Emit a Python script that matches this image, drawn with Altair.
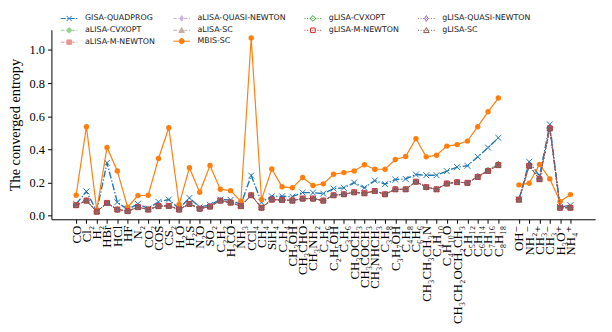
import json
import altair as alt
import pandas as pd

# ---------------- data ----------------
molecules = ["CO", "Cl₂", "H₂", "HBr", "HCl", "HF", "N₂", "CO₂", "COS", "CS₂",
             "H₂O", "H₂S", "N₂O", "SO₂", "C₂H₂", "H₂CO", "NH₃", "CCl₄", "CH₄", "SiH₄",
             "C₂H₄", "CH₃OH", "CH₃CHO", "CH₃NH₂", "C₂H₆", "C₂H₅OH", "C₃H₆", "CH₃OCH₃",
             "CH₃COCH₃", "CH₃NHCH₃", "C₃H₈", "C₃H₇OH", "C₄H₈", "C₆H₆", "CH₃CH₃CH₃N",
             "C₄H₁₀", "C₄H₁₀O", "CH₃CH₂OCH₂CH₃", "C₅H₁₂", "C₆H₁₄", "C₇H₁₆", "C₈H₁₈"]
ions = ["OH⁻", "NH₂⁻", "CH₃⁺", "CH₃⁻", "H₃O⁺", "NH₄⁺"]

gisa_neutral = [0.071, 0.146, 0.027, 0.319, 0.081, 0.037, 0.071, 0.043, 0.083, 0.097,
                0.043, 0.107, 0.051, 0.065, 0.097, 0.095, 0.067, 0.242, 0.081, 0.117,
                0.117, 0.115, 0.139, 0.139, 0.133, 0.163, 0.168, 0.200, 0.168, 0.212,
                0.190, 0.218, 0.222, 0.248, 0.244, 0.244, 0.269, 0.293, 0.301, 0.355,
                0.411, 0.470]
gisa_ions = [0.097, 0.325, 0.240, 0.551, 0.051, 0.063]

mbis_neutral = [0.123, 0.537, 0.035, 0.412, 0.270, 0.051, 0.121, 0.123, 0.345, 0.531,
                0.067, 0.289, 0.141, 0.303, 0.159, 0.151, 0.087, 1.073, 0.097, 0.282,
                0.174, 0.168, 0.230, 0.182, 0.192, 0.250, 0.260, 0.270, 0.307, 0.280,
                0.280, 0.339, 0.357, 0.465, 0.355, 0.365, 0.420, 0.429, 0.450, 0.537,
                0.627, 0.710]
mbis_ions = [0.186, 0.196, 0.309, 0.222, 0.085, 0.127]

lisa_neutral = [0.063, 0.091, 0.024, 0.077, 0.037, 0.027, 0.051, 0.037, 0.057, 0.059,
                0.037, 0.071, 0.042, 0.055, 0.091, 0.079, 0.057, 0.123, 0.048, 0.097,
                0.095, 0.091, 0.103, 0.103, 0.091, 0.123, 0.129, 0.141, 0.135, 0.149,
                0.129, 0.159, 0.159, 0.205, 0.172, 0.159, 0.194, 0.202, 0.198, 0.234,
                0.270, 0.305]
lisa_ions = [0.097, 0.301, 0.220, 0.527, 0.048, 0.048]

cvxopt_neutral = lisa_neutral[:39] + [0.238, 0.275, 0.312]
cvxopt_ions = lisa_ions

series_values = {
    "GISA-QUADPROG": (gisa_neutral, gisa_ions),
    "aLISA-CVXOPT": (cvxopt_neutral, cvxopt_ions),
    "aLISA-M-NEWTON": (lisa_neutral, lisa_ions),
    "aLISA-QUASI-NEWTON": (lisa_neutral, lisa_ions),
    "aLISA-SC": (lisa_neutral, lisa_ions),
    "MBIS-SC": (mbis_neutral, mbis_ions),
    "gLISA-CVXOPT": (cvxopt_neutral, cvxopt_ions),
    "gLISA-M-NEWTON": (lisa_neutral, lisa_ions),
    "gLISA-QUASI-NEWTON": (lisa_neutral, lisa_ions),
    "gLISA-SC": (lisa_neutral, lisa_ions),
}
series_order = list(series_values.keys())

# legend columns as in the reference (filled column by column)
legend_columns = [["GISA-QUADPROG", "aLISA-CVXOPT", "aLISA-M-NEWTON"],
                  ["aLISA-QUASI-NEWTON", "aLISA-SC", "MBIS-SC"],
                  ["gLISA-CVXOPT", "gLISA-M-NEWTON"],
                  ["gLISA-QUASI-NEWTON", "gLISA-SC"]]
legend_column_x = [11.5, 125.5, 258.5, 373.5]

# ---------------- styles ----------------
C = {"blue": "#1f77b4", "orange": "#ff7f0e", "green": "#2ca02c", "red": "#d62728",
     "purple": "#9467bd", "brown": "#8c564b"}
X_PATH = "M-1,-1L1,1M-1,1L1,-1"
THIN_D = "M0,-1L0.6,0L0,1L-0.6,0Z"
styles = {
    "GISA-QUADPROG": dict(color=C["blue"], dash=[7, 2, 1.3, 2], sw=1.4, op=1.0, shape=X_PATH, size=36, filled=False),
    "aLISA-CVXOPT": dict(color=C["green"], dash=[4, 2], sw=1.0, op=0.5, shape="diamond", size=30, filled=True),
    "aLISA-M-NEWTON": dict(color=C["red"], dash=[4, 2], sw=1.0, op=0.5, shape="square", size=25, filled=True),
    "aLISA-QUASI-NEWTON": dict(color=C["purple"], dash=[4, 2], sw=1.0, op=0.5, shape=THIN_D, size=30, filled=True),
    "aLISA-SC": dict(color=C["brown"], dash=[4, 2], sw=1.0, op=0.5, shape="triangle-up", size=28, filled=True),
    "MBIS-SC": dict(color=C["orange"], dash=None, sw=1.2, op=1.0, shape="circle", size=30, filled=True),
    "gLISA-CVXOPT": dict(color=C["green"], dash=[1.2, 2], sw=1.0, op=1.0, shape="diamond", size=30, filled=False),
    "gLISA-M-NEWTON": dict(color=C["red"], dash=[1.2, 2], sw=1.0, op=1.0, shape="square", size=25, filled=False),
    "gLISA-QUASI-NEWTON": dict(color=C["purple"], dash=[1.2, 2], sw=1.0, op=1.0, shape=THIN_D, size=30, filled=False),
    "gLISA-SC": dict(color=C["brown"], dash=[1.2, 2], sw=1.0, op=1.0, shape="triangle-up", size=28, filled=False),
}

# positions: neutral molecules, one empty slot, then ions
pos_neutral = list(range(len(molecules)))
pos_ions = [len(molecules) + 1 + i for i in range(len(ions))]
positions = pos_neutral + pos_ions
label_lookup = [""] * (max(positions) + 1)
for p, name in zip(positions, molecules + ions):
    label_lookup[p] = name

rows = []
for s in series_order:
    neu, ion = series_values[s]
    for p, v in zip(pos_neutral, neu):
        rows.append({"series": s, "pos": p, "value": v, "block": "neutral"})
    for p, v in zip(pos_ions, ion):
        rows.append({"series": s, "pos": p, "value": v, "block": "ion"})
df = pd.DataFrame(rows)

color_scale = alt.Scale(domain=series_order, range=[styles[s]["color"] for s in series_order])

SERIF = "Liberation Serif, DejaVu Serif, serif"

x_enc = alt.X("pos:Q",
              scale=alt.Scale(domain=[-2.4, 50.4], nice=False, zero=False),
              axis=alt.Axis(values=positions,
                            labelExpr=json.dumps(label_lookup, ensure_ascii=False) + "[datum.value]",
                            labelAngle=270, labelFont=SERIF, labelFontSize=13,
                            labelPadding=2, tickSize=4, title=None, labelOverlap=False,
                            labelBound=False, labelFlush=False))
y_enc = alt.Y("value:Q",
              scale=alt.Scale(domain=[-0.022, 1.122], nice=False, zero=False),
              axis=alt.Axis(values=[0, 0.2, 0.4, 0.6, 0.8, 1.0], format=".1f",
                            labelFont=SERIF, labelFontSize=12.5, tickSize=4, labelPadding=3,
                            title="The converged entropy", titleFont=SERIF, titleFontSize=14.5,
                            titleFontWeight="normal", titlePadding=7))

base = alt.Chart(df)
layers = []
for s in series_order:
    st = styles[s]
    sub = base.transform_filter(alt.datum.series == s)
    line_kw = dict(strokeWidth=st["sw"], opacity=st["op"])
    if st["dash"]:
        line_kw["strokeDash"] = st["dash"]
    line = sub.mark_line(**line_kw).encode(
        x=x_enc, y=y_enc,
        color=alt.Color("series:N", scale=color_scale, legend=None),
        detail="block:N")
    pt = sub.mark_point(shape=st["shape"], size=st["size"], filled=st["filled"],
                        opacity=st["op"], strokeWidth=1).encode(
        x=x_enc, y=y_enc,
        color=alt.Color("series:N", scale=color_scale, legend=None))
    layers += [line, pt]

# ---------------- legend (matplotlib-like handles) ----------------
UNIT = 6.0      # px per path unit (symbolSize 144 -> sqrt/2 = 6)
HALF = 8.5      # half handle length in px


def segs(pattern, gap=None):
    out = []
    if not pattern:
        out = [(-HALF, HALF)]
    else:
        x = -HALF
        i = 0
        while x < HALF:
            L = pattern[i % len(pattern)]
            if i % 2 == 0:
                out.append((x, min(x + L, HALF)))
            x += L
            i += 1
    if gap:
        cut = []
        for a, b in out:
            if b <= -gap or a >= gap:
                cut.append((a, b))
            else:
                if a < -gap:
                    cut.append((a, -gap))
                if b > gap:
                    cut.append((gap, b))
        out = cut
    return "".join(f"M{a / UNIT:.3f},0L{b / UNIT:.3f},0" for a, b in out if b - a > 0.05)


def marker(kind):
    r = 2.6 / UNIT
    if kind == "x":
        return f"M{-r},{-r}L{r},{r}M{-r},{r}L{r},{-r}"
    if kind == "circle":
        return f"M{r},0A{r},{r},0,1,1,{-r},0A{r},{r},0,1,1,{r},0Z"
    if kind == "square":
        q = 2.3 / UNIT
        return f"M{-q},{-q}L{q},{-q}L{q},{q}L{-q},{q}Z"
    if kind == "diamond":
        q = 2.9 / UNIT
        return f"M0,{-q}L{q},0L0,{q}L{-q},0Z"
    if kind == "thin":
        q = 2.9 / UNIT
        return f"M0,{-q}L{q * 0.6},0L0,{q}L{-q * 0.6},0Z"
    if kind == "tri":
        q = 2.8 / UNIT
        return f"M0,{-q}L{q},{q * 0.8}L{-q},{q * 0.8}Z"
    return ""


def fade(hex_color, a):
    h = hex_color.lstrip("#")
    rgb = [int(h[i:i + 2], 16) for i in (0, 2, 4)]
    return "#" + "".join(f"{round(c * a + 255 * (1 - a)):02x}" for c in rgb)


leg_spec = {
    "GISA-QUADPROG": ("x", [5, 1.5, 1.2, 1.5], None),
    "aLISA-CVXOPT": ("diamond", [3.7, 1.6], 2.9),
    "aLISA-M-NEWTON": ("square", [3.7, 1.6], 2.3),
    "aLISA-QUASI-NEWTON": ("thin", [3.7, 1.6], 1.8),
    "aLISA-SC": ("tri", [3.7, 1.6], 2.8),
    "MBIS-SC": ("circle", None, 2.6),
    "gLISA-CVXOPT": ("diamond", [1, 1.65], None),
    "gLISA-M-NEWTON": ("square", [1, 1.65], None),
    "gLISA-QUASI-NEWTON": ("thin", [1, 1.65], None),
    "gLISA-SC": ("tri", [1, 1.65], None),
}

legend_layers = []
for names, lx in zip(legend_columns, legend_column_x):
    paths, strokes, fills = [], [], []
    for s in names:
        kind, pat, gap = leg_spec[s]
        st = styles[s]
        paths.append(segs(pat, gap) + marker(kind))
        col = fade(st["color"], st["op"])
        strokes.append(col)
        fills.append(col if (st["filled"] and kind != "x") else "transparent")
    legend = alt.Legend(title=None, orient="none", legendX=lx, legendY=-18,
                        direction="vertical",
                        symbolSize=144, symbolStrokeWidth=1, symbolOpacity=1,
                        labelFont="DejaVu Sans", labelFontSize=8, labelColor="#222222",
                        labelOffset=9.5, rowPadding=0, padding=0)
    ldf = pd.DataFrame({"entry": names})
    legend_layers.append(
        alt.Chart(ldf).mark_point(opacity=0).encode(
            shape=alt.Shape("entry:N", scale=alt.Scale(domain=names, range=paths), legend=legend),
            stroke=alt.Stroke("entry:N", scale=alt.Scale(domain=names, range=strokes), legend=legend),
            fill=alt.Fill("entry:N", scale=alt.Scale(domain=names, range=fills), legend=legend),
            opacity=alt.value(0),
        )
    )

chart = alt.layer(*layers, *legend_layers).resolve_scale(
    shape="independent", stroke="independent", fill="independent"
).resolve_legend(
    shape="independent", stroke="independent", fill="independent"
).properties(
    width=551, height=192,
    autosize=alt.AutoSizeParams(type="none"),
    padding={"left": 44, "top": 20, "right": 9, "bottom": 104},
).configure_view(stroke=None).configure_axis(
    domainColor="black", tickColor="black", labelColor="black", titleColor="black",
    grid=False, domainWidth=1, tickWidth=1,
).configure_axisY(domain=True)

chart.save("out.html", embed_options={"renderer": "svg", "actions": False})
